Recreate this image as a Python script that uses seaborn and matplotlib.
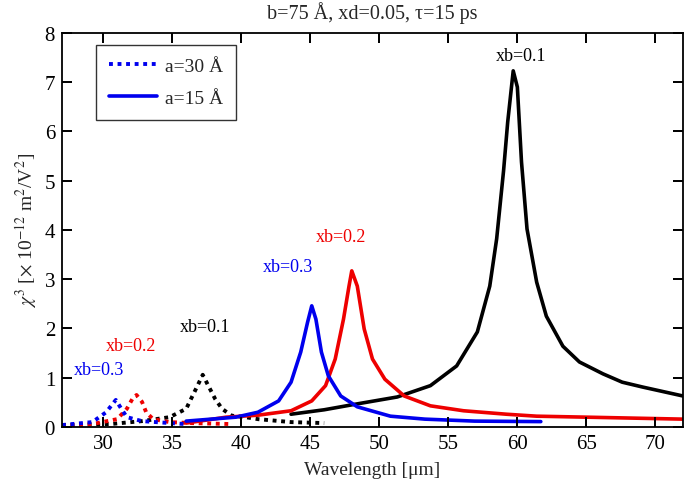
import numpy as np
import pandas as pd
import matplotlib
matplotlib.use("Agg")
import matplotlib.pyplot as plt
import matplotlib.transforms as mtransforms
import seaborn as sns
from matplotlib.lines import Line2D

# ---- data ----
# a = 15 Å (solid)
x_s01 = [43.6, 46.0, 48.4, 51.3, 53.7, 55.6, 57.1, 58.0, 58.5, 59.0, 59.3, 59.7, 60.0, 60.3, 60.7, 61.4, 62.1, 63.3, 64.5, 66.2, 67.6, 69.1, 72.0]
y_s01 = [0.26, 0.35, 0.47, 0.61, 0.84, 1.24, 1.93, 2.86, 3.82, 5.2, 6.19, 7.23, 6.9, 5.38, 4.02, 2.94, 2.25, 1.64, 1.32, 1.08, 0.91, 0.81, 0.63]

x_s02 = [36.0, 38.9, 41.2, 43.6, 45.1, 46.1, 46.8, 47.4, 47.8, 48.0, 48.4, 48.9, 49.5, 50.4, 51.8, 53.7, 56.1, 59.2, 61.4, 65.0, 72.0]
y_s02 = [0.08, 0.2, 0.24, 0.33, 0.53, 0.84, 1.38, 2.19, 2.86, 3.17, 2.86, 1.99, 1.38, 0.97, 0.63, 0.43, 0.33, 0.26, 0.22, 0.2, 0.16]

x_s03 = [36.0, 39.6, 41.2, 42.7, 43.6, 44.3, 44.8, 45.1, 45.4, 45.8, 46.3, 47.2, 48.4, 50.8, 53.3, 56.9, 61.7]
y_s03 = [0.12, 0.2, 0.3, 0.53, 0.91, 1.52, 2.13, 2.46, 2.19, 1.52, 1.04, 0.63, 0.41, 0.22, 0.16, 0.12, 0.11]

# a = 30 Å (dotted)
x_d01 = [27.0, 30.5, 32.8, 34.8, 36.0, 36.7, 37.2, 37.6, 38.1, 38.6, 39.3, 40.3, 41.2, 43.6, 46.0]
y_d01 = [0.04, 0.06, 0.12, 0.2, 0.37, 0.77, 1.06, 0.84, 0.57, 0.37, 0.23, 0.2, 0.16, 0.1, 0.08]

x_d02 = [27.0, 29.2, 31.0, 31.7, 32.1, 32.4, 32.8, 33.1, 33.6, 34.8, 36.4, 39.3]
y_d02 = [0.02, 0.06, 0.16, 0.37, 0.57, 0.65, 0.51, 0.3, 0.16, 0.1, 0.08, 0.06]

x_d03 = [27.0, 29.2, 30.2, 30.9, 31.3, 31.7, 32.8, 34.8, 36.0]
y_d03 = [0.04, 0.1, 0.3, 0.55, 0.37, 0.2, 0.12, 0.08, 0.06]

x_ticks = [30, 35, 40, 45, 50, 55, 60, 65, 70]
y_ticks = [0, 1, 2, 3, 4, 5, 6, 7, 8]
labels_xb = ["xb=0.1", "xb=0.2", "xb=0.3"]
colors = ["black", "#ee0000", "#0000ee"]

sns.set_style("white")
plt.rcParams.update({
    "font.family": ["Liberation Serif", "DejaVu Serif"],
    "mathtext.fontset": "stix",
    "xtick.direction": "in", "ytick.direction": "in",
    "xtick.top": True, "ytick.right": True,
    "xtick.bottom": True, "ytick.left": True,
    "xtick.major.size": 7, "ytick.major.size": 7,
    "xtick.major.width": 1.3, "ytick.major.width": 1.3,
    "xtick.color": "black", "ytick.color": "black",
    "xtick.labelsize": 15, "ytick.labelsize": 15,
    "axes.edgecolor": "black", "axes.linewidth": 1.3,
})

fig = plt.figure(figsize=(6.85, 4.89), dpi=100)
ax = fig.add_axes([0.0905, 0.1247, 0.9065, 0.806])

solid = [(x_s01, y_s01), (x_s02, y_s02), (x_s03, y_s03)]
dotted = [(x_d01, y_d01), (x_d02, y_d02), (x_d03, y_d03)]

for (xs, ys), c in zip(dotted, colors):
    df = pd.DataFrame({"x": xs, "y": ys})
    sns.lineplot(data=df, x="x", y="y", ax=ax, color=c, lw=2.8,
                 linestyle=(0, (1, 1.2)), sort=False, estimator=None)
for (xs, ys), c in zip(solid, colors):
    df = pd.DataFrame({"x": xs, "y": ys})
    sns.lineplot(data=df, x="x", y="y", ax=ax, color=c, lw=2.6,
                 sort=False, estimator=None)

# annotations
ann = [
    (60.3, 7.55, labels_xb[0], colors[0]),
    (47.2, 3.86, labels_xb[1], colors[1]),
    (43.4, 3.25, labels_xb[2], colors[2]),
    (37.4, 2.05, labels_xb[0], colors[0]),
    (32.0, 1.66, labels_xb[1], colors[1]),
    (29.7, 1.16, labels_xb[2], colors[2]),
]
for x, y, t, c in ann:
    ax.text(x, y, t, color=c, fontsize=13, ha="center", va="center")

ax.set_xlim(27, 72)
ax.set_ylim(0, 8)
ax.set_xticks(x_ticks)
ax.set_yticks(y_ticks)

ax.set_xlabel("Wavelength [μm]", fontsize=14, labelpad=6)
ax.set_ylabel(r"$\chi^3$ [$\times$ 10$^{-12}$ m$^2$/V$^2$]", fontsize=14, labelpad=4)
ax.set_title("b=75 Å, xd=0.05, τ=15 ps", fontsize=14.5, pad=11)

handles = [Line2D([], [], color=colors[2], lw=2.8, linestyle=(0, (1, 1.2))),
           Line2D([], [], color=colors[2], lw=2.6)]
leg = ax.legend(handles, ["a=30 Å", "a=15 Å"], loc="upper left",
                bbox_to_anchor=(0.055, 0.97), fontsize=14, frameon=True,
                fancybox=False, edgecolor="black", handlelength=2.5,
                borderpad=0.65, labelspacing=0.75, handletextpad=0.4,
                borderaxespad=0)
leg.get_frame().set_linewidth(1.0)

ax.tick_params(axis="both", direction="in", length=7, width=1.3,
               top=True, right=True, bottom=True, left=True)
ax.tick_params(axis="both", labelsize=15, pad=5)

# inward tick marks on all four sides, placed at the tick values
tx = mtransforms.blended_transform_factory(ax.transData, ax.transAxes)
ty = mtransforms.blended_transform_factory(ax.transAxes, ax.transData)
tick_kw = dict(ls="none", ms=7, mew=1.3, color="black", clip_on=False, zorder=5)
ax.plot(x_ticks, [0] * len(x_ticks), marker=2, transform=tx, **tick_kw)
ax.plot(x_ticks, [1] * len(x_ticks), marker=3, transform=tx, **tick_kw)
ax.plot([0] * len(y_ticks), y_ticks, marker=1, transform=ty, **tick_kw)
ax.plot([1] * len(y_ticks), y_ticks, marker=0, transform=ty, **tick_kw)
ax.set_xlim(27, 72)
ax.set_ylim(0, 8)

fig.savefig("out.png", dpi=100)
